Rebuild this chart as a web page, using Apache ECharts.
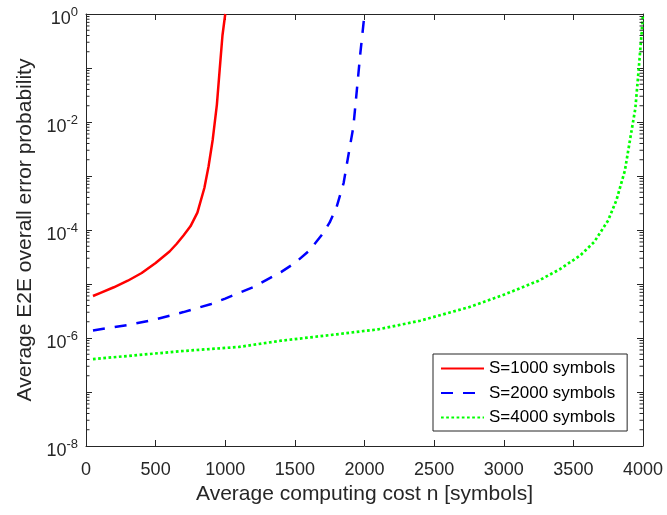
<!DOCTYPE html>
<html>
<head>
<meta charset="utf-8">
<script src="https://cdn.jsdelivr.net/npm/echarts/dist/echarts.min.js"></script>
<style>
html,body{margin:0;padding:0;background:#fff;}
#chart{width:667px;height:515px;}
</style>
</head>
<body>
<div id="chart"></div>
<script>
// ---- data ----
const xTicks = [0, 500, 1000, 1500, 2000, 2500, 3000, 3500, 4000];
const yTickExponents = [-8, -6, -4, -2, 0];

const seriesNames = ['S=1000 symbols', 'S=2000 symbols', 'S=4000 symbols'];

const redN = [50, 100, 200, 300, 400, 500, 600, 650, 700, 750, 800, 850, 880, 910, 940, 960, 980, 1000];
const redP = [6.0e-6, 6.8e-6, 8.7e-6, 1.15e-5, 1.6e-5, 2.45e-5, 4.0e-5, 5.5e-5, 7.9e-5, 1.17e-4, 2.1e-4, 6.0e-4, 1.5e-3, 4.7e-3, 2.1e-2, 9.3e-2, 0.40, 1.0];

const blueN = [50, 300, 500, 700, 900, 1000, 1200, 1400, 1500, 1600, 1700, 1750, 1800, 1850, 1880, 1920, 1945, 1970, 2000];
const blueP = [1.38e-6, 1.74e-6, 2.21e-6, 3.02e-6, 4.27e-6, 5.37e-6, 8.71e-6, 1.66e-5, 2.45e-5, 4.07e-5, 8.5e-5, 1.38e-4, 2.69e-4, 7.4e-4, 2.09e-3, 8.1e-3, 3.9e-2, 0.186, 1.0];

const greenN = [50, 700, 1100, 1400, 1800, 2100, 2400, 2750, 3000, 3250, 3400, 3550, 3650, 3750, 3810, 3870, 3910, 3945, 3970, 3990, 4000];
const greenP = [4.07e-7, 5.75e-7, 6.84e-7, 8.91e-7, 1.17e-6, 1.45e-6, 2.09e-6, 3.72e-6, 6.31e-6, 1.15e-5, 1.86e-5, 3.39e-5, 6.03e-5, 1.51e-4, 3.63e-4, 1.26e-3, 5.25e-3, 1.78e-2, 0.1, 0.447, 1.0];

// ---- build ----
const pairs = (xs, ys) => xs.map((x, i) => [x, ys[i]]);
const FONT = "'Liberation Sans', Arial, Helvetica, sans-serif";
const AX = '#262626';

const minorVals = [];
for (let k = -8; k < 0; k++) for (let m = 2; m <= 9; m++) minorVals.push(m * Math.pow(10, k));

const chart = echarts.init(document.getElementById('chart'), null, {renderer: 'canvas'});

const yLabelFmt = function (v) {
  const e = Math.round(Math.log10(v));
  if (yTickExponents.indexOf(e) < 0) return '';
  return '{b|10}{s|' + e + '}';
};

const commonX = {
  type: 'value', min: xTicks[0], max: xTicks[xTicks.length - 1], interval: 500,
  splitLine: {show: false},
  axisLine: {onZero: false, lineStyle: {color: AX, width: 1}},
  axisTick: {inside: true, length: 6, lineStyle: {color: AX, width: 1}}
};
const commonY = {
  type: 'log', logBase: 10, min: 1e-8, max: 1, splitNumber: 8,
  splitLine: {show: false},
  axisLine: {onZero: false, lineStyle: {color: AX, width: 1}},
  axisTick: {inside: true, length: 6, lineStyle: {color: AX, width: 1}},
  minorTick: {show: false}
};

const option = {
  backgroundColor: '#fff',
  animation: false,
  textStyle: {fontFamily: FONT},
  grid: {left: 86, right: 24, top: 14, bottom: 69, containLabel: false},
  legend: {
    orient: 'vertical', left: 433, top: 354,
    data: seriesNames,
    backgroundColor: '#fff', borderColor: AX, borderWidth: 1, borderRadius: 0,
    padding: [6, 12, 5, 7],
    itemWidth: 43, itemHeight: 14, itemGap: 7.5,
    itemStyle: {color: 'rgba(0,0,0,0)', borderWidth: 0, opacity: 0},
    textStyle: {fontFamily: FONT, fontSize: 17, color: '#000', lineHeight: 17}
  },
  xAxis: [
    Object.assign({}, commonX, {
      position: 'bottom',
      name: 'Average computing cost n [symbols]', nameLocation: 'middle', nameGap: 38,
      nameTextStyle: {fontFamily: FONT, fontSize: 21, color: AX},
      axisLabel: {fontFamily: FONT, fontSize: 18, color: AX, margin: 15, formatter: v => String(v)}
    }),
    Object.assign({}, commonX, {position: 'top', axisLabel: {show: false}})
  ],
  yAxis: [
    Object.assign({}, commonY, {
      position: 'left',
      name: 'Average E2E overall error probability', nameLocation: 'middle', nameGap: 45,
      nameTextStyle: {fontFamily: FONT, fontSize: 21, color: AX},
      axisLabel: {
        margin: 8, color: AX, formatter: yLabelFmt, padding: [11, 0, 0, 0],
        rich: {
          b: {fontFamily: FONT, fontSize: 18, lineHeight: 28, color: AX, verticalAlign: 'middle'},
          s: {fontFamily: FONT, fontSize: 13, lineHeight: 13, color: AX, verticalAlign: 'top'}
        }
      }
    }),
    Object.assign({}, commonY, {position: 'right', axisLabel: {show: false}})
  ],
  series: [
    {
      name: seriesNames[0], type: 'line', symbol: 'none', xAxisIndex: 0, yAxisIndex: 0,
      data: pairs(redN, redP),
      lineStyle: {color: '#ff0000', width: 2.5, type: 'solid'},
      itemStyle: {color: '#ff0000'}, z: 3
    },
    {
      name: seriesNames[1], type: 'line', symbol: 'none', xAxisIndex: 0, yAxisIndex: 0,
      data: pairs(blueN, blueP),
      lineStyle: {color: '#0000ff', width: 2.5, type: [12, 10], cap: 'butt'},
      itemStyle: {color: '#0000ff'}, z: 3
    },
    {
      name: seriesNames[2], type: 'line', symbol: 'none', xAxisIndex: 0, yAxisIndex: 0,
      data: pairs(greenN, greenP),
      lineStyle: {color: '#00ff00', width: 2.7, type: [2.7, 2.5], cap: 'butt'},
      itemStyle: {color: '#00ff00'}, z: 3
    },
    {
      type: 'custom', silent: true, xAxisIndex: 0, yAxisIndex: 0, clip: false, z: 5,
      data: minorVals.map(v => [0, v]),
      renderItem: function (params, api) {
        const cs = params.coordSys;
        const y = api.coord([0, api.value(1)])[1];
        return {
          type: 'group', children: [
            {type: 'line', shape: {x1: cs.x, y1: y, x2: cs.x + 3.5, y2: y}, style: {stroke: AX, lineWidth: 1}},
            {type: 'line', shape: {x1: cs.x + cs.width, y1: y, x2: cs.x + cs.width - 3.5, y2: y}, style: {stroke: AX, lineWidth: 1}}
          ]
        };
      }
    }
  ]
};
chart.setOption(option);
</script>
</body>
</html>
